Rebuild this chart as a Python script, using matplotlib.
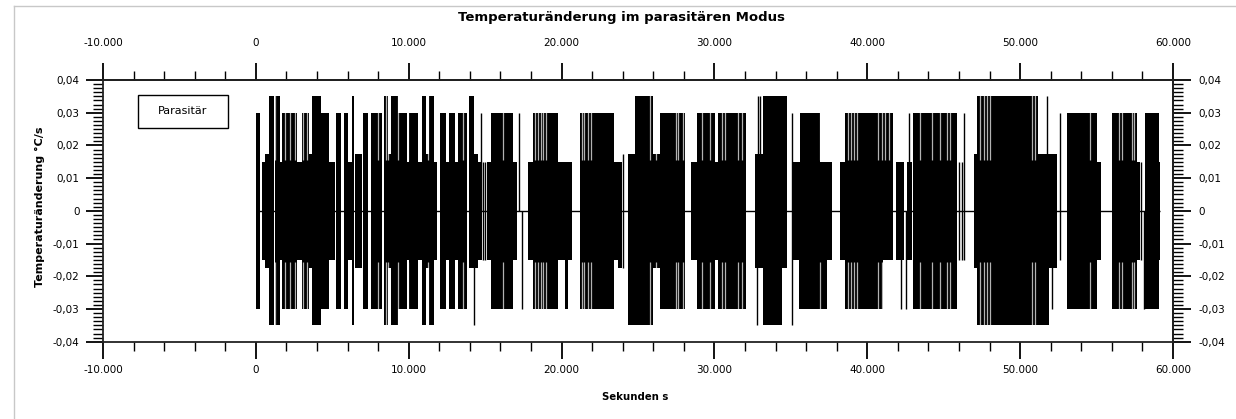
import matplotlib
matplotlib.use("Agg")
import matplotlib.pyplot as plt
from matplotlib.ticker import MultipleLocator, FixedLocator, FixedFormatter
from matplotlib.patches import Rectangle
from matplotlib.lines import Line2D

# ---------------- data ----------------
# dense oscillation bursts: start / end time [s], upper / lower envelope [°C/s]
burst_start = [0, 390, 590, 870, 1260, 1570, 1700, 2700, 2990, 3490, 3670, 4230, 4800,
               5240, 5780, 6040, 6260, 6480, 7030, 7530, 8010, 8400, 8660, 8840, 9320,
               9860, 10020, 10630, 10840, 11100, 11320, 11630, 12040, 12420, 12630,
               13030, 13240, 13960, 14290, 14550, 15100, 15360, 16840, 17830, 18150,
               19790, 20220, 20440, 21210, 23450, 23720, 24370, 24810, 26010, 26440,
               28450, 28840, 30040, 30260, 32660, 33210, 34450, 35060, 35500, 35610,
               36920, 37350, 38220, 38550, 41060, 41890, 42590, 43020, 46990, 47160,
               51200, 51860, 53060, 55020, 56000, 57640, 58180, 59060]
burst_end = [260, 570, 830, 1180, 1570, 1700, 2700, 2990, 3490, 3670, 4230, 4760, 5190,
             5540, 6040, 6260, 6420, 6960, 7310, 7960, 8230, 8660, 8840, 9270, 9860,
             10020, 10630, 10840, 11100, 11320, 11630, 11830, 12420, 12630, 13030,
             13240, 13830, 14290, 14550, 14770, 15360, 16840, 17100, 18150, 19790,
             20220, 20440, 20700, 23450, 23720, 23980, 24810, 26010, 26440, 28080,
             28840, 30040, 30260, 32070, 33210, 34450, 34730, 35500, 35610, 36920,
             37350, 37680, 38550, 41060, 41670, 42410, 42910, 45860, 47160, 51200,
             51860, 52400, 55020, 55280, 57640, 57860, 59060, 59170]
burst_high = [0.03, 0.015, 0.0175, 0.035, 0.035, 0.015, 0.03, 0.015, 0.03, 0.0175, 0.035,
              0.03, 0.015, 0.03, 0.03, 0.015, 0.035, 0.0175, 0.03, 0.03, 0.03, 0.035,
              0.0175, 0.035, 0.03, 0.015, 0.03, 0.015, 0.035, 0.0175, 0.035, 0.015, 0.03,
              0.015, 0.03, 0.015, 0.03, 0.035, 0.0175, 0.015, 0.015, 0.03, 0.015, 0.015,
              0.03, 0.015, 0.015, 0.015, 0.03, 0.015, 0.015, 0.0175, 0.035, 0.0175, 0.03,
              0.015, 0.03, 0.015, 0.03, 0.0175, 0.035, 0.035, 0.015, 0.015, 0.03, 0.015,
              0.015, 0.015, 0.03, 0.03, 0.015, 0.015, 0.03, 0.0175, 0.035, 0.0175,
              0.0175, 0.03, 0.015, 0.03, 0.015, 0.03, 0.015]
burst_low = [-0.03, -0.015, -0.0175, -0.035, -0.035, -0.015, -0.03, -0.015, -0.03, -0.0175,
             -0.035, -0.03, -0.015, -0.03, -0.03, -0.015, -0.035, -0.0175, -0.03, -0.03,
             -0.03, -0.035, -0.0175, -0.035, -0.03, -0.015, -0.03, -0.015, -0.035,
             -0.0175, -0.035, -0.015, -0.03, -0.015, -0.03, -0.015, -0.03, -0.0175,
             -0.0175, -0.015, -0.015, -0.03, -0.015, -0.015, -0.03, -0.015, -0.03,
             -0.015, -0.03, -0.015, -0.0175, -0.035, -0.035, -0.0175, -0.03, -0.015,
             -0.03, -0.015, -0.03, -0.0175, -0.035, -0.0175, -0.015, -0.03, -0.03, -0.03,
             -0.015, -0.015, -0.03, -0.015, -0.015, -0.015, -0.03, -0.0175, -0.035,
             -0.035, -0.0175, -0.03, -0.015, -0.03, -0.015, -0.03, -0.015]

# isolated single spikes: time [s], upper / lower value
spike_time = [14270, 14705, 14880, 15000, 17210, 17390, 24040, 32800, 32830, 32960, 35060,
              42190, 42540, 42700, 46030, 46180, 46340, 51750, 52080, 52620, 57900, 58080]
spike_high = [0, 0.03, 0.015, 0.015, 0.03, 0, 0.0175, 0, 0.035, 0.035, 0.03,
              0, 0, 0.03, 0.015, 0.015, 0.03, 0.035, 0, 0.03, 0.015, 0]
spike_low = [-0.035, 0, -0.015, -0.015, 0, -0.03, -0.0175, -0.035, 0, 0, -0.035,
             -0.03, -0.03, 0, -0.015, -0.015, -0.015, 0, -0.03, -0.015, -0.015, -0.03]

# short moments inside bursts where the outer envelope drops back to the ±0.015 level
dip_time = [1222, 1898, 2225, 2552, 3098, 3316, 7964, 8509, 8618, 9273, 9971, 11237,
            13570, 16145, 18262, 18480, 18654, 18807, 18982, 21315, 21490, 21751, 21926,
            25788, 26159, 27489, 27642, 27969, 29169, 29714, 30478, 30696, 31569, 31787,
            36915, 38726, 38944, 39162, 39315, 40733, 40950, 41168, 41452, 43459, 44223,
            44769, 45205, 45423, 47387, 47605, 47822, 48040, 50768, 50986, 54586, 56440,
            56658, 57313, 57422]
dip_level = 0.0155

x_ticks = [-10000, 0, 10000, 20000, 30000, 40000, 50000, 60000]
x_tick_labels = ["-10.000", "0", "10.000", "20.000", "30.000", "40.000", "50.000", "60.000"]
y_ticks = [-0.04, -0.03, -0.02, -0.01, 0, 0.01, 0.02, 0.03, 0.04]
y_tick_labels = ["-0,04", "-0,03", "-0,02", "-0,01", "0", "0,01", "0,02", "0,03", "0,04"]

title = "Temperaturänderung im parasitären Modus"
x_label = "Sekunden s"
y_label = "Temperaturänderung °C/s"
legend_label = "Parasitär"

# ---------------- figure ----------------
W, H = 1236, 419
fig = plt.figure(figsize=(W / 100, H / 100), dpi=100)
fig.patch.set_facecolor("white")
L, R, T, B = 103, 1173, 80, 341.7
ax = fig.add_axes([L / W, 1 - B / H, (R - L) / W, (B - T) / H])
ax.set_xlim(-10000, 60000)
ax.set_ylim(-0.04, 0.04)

widths = [e - s for s, e in zip(burst_start, burst_end)]
heights = [h - l for h, l in zip(burst_high, burst_low)]
ax.hlines(0, burst_start[0], burst_end[-1], color="black", linewidth=1.0, zorder=2)
ax.bar(burst_start, heights, width=widths, bottom=burst_low, align="edge",
       color="black", linewidth=0, zorder=3)
ax.vlines(dip_time, dip_level, 0.0355, color="white", linewidth=0.9, alpha=0.7, zorder=4)
ax.vlines(dip_time, -0.0355, -dip_level, color="white", linewidth=0.9, alpha=0.7, zorder=4)
ax.vlines(spike_time, spike_low, spike_high, color="black", linewidth=1.0, zorder=5)

for sp in ax.spines.values():
    sp.set_linewidth(1.3)
    sp.set_color("#222222")

fs = 7.5
# bottom x axis
ax.xaxis.set_major_locator(FixedLocator(x_ticks))
ax.xaxis.set_major_formatter(FixedFormatter(x_tick_labels))
ax.xaxis.set_minor_locator(MultipleLocator(2000))
ax.tick_params(axis="x", which="major", direction="out", length=12, width=1.3, pad=5,
               labelsize=fs, bottom=True, top=False)
ax.tick_params(axis="x", which="minor", direction="out", length=6.5, width=1.0,
               bottom=True, top=False)
# left y axis
ax.yaxis.set_major_locator(FixedLocator(y_ticks))
ax.yaxis.set_major_formatter(FixedFormatter(y_tick_labels))
ax.yaxis.set_minor_locator(MultipleLocator(0.00125))
ax.tick_params(axis="y", which="major", direction="out", length=12, width=1.3, pad=5,
               labelsize=fs, left=True, right=False)
ax.tick_params(axis="y", which="minor", direction="out", length=7, width=1.0,
               left=True, right=False)

# top x axis
secx = ax.secondary_xaxis("top")
secx.xaxis.set_major_locator(FixedLocator(x_ticks))
secx.xaxis.set_major_formatter(FixedFormatter(x_tick_labels))
secx.xaxis.set_minor_locator(MultipleLocator(2000))
secx.tick_params(axis="x", which="major", direction="out", length=12, width=1.3, pad=11,
                 labelsize=fs)
secx.tick_params(axis="x", which="minor", direction="out", length=6.5, width=1.0)
secx.spines["top"].set_linewidth(1.3)

# right y axis
secy = ax.secondary_yaxis("right")
secy.yaxis.set_major_locator(FixedLocator(y_ticks))
secy.yaxis.set_major_formatter(FixedFormatter(y_tick_labels))
secy.yaxis.set_minor_locator(MultipleLocator(0.00125))
secy.tick_params(axis="y", which="major", direction="out", length=13, width=1.3, pad=5,
                 labelsize=fs)
secy.tick_params(axis="y", which="minor", direction="out", length=7, width=1.0)
secy.spines["right"].set_linewidth(1.3)

# legend box
lx0, ly_top, lx1, ly_bot = 138, 95, 228, 128
ax.add_patch(Rectangle(((lx0 - L) / (R - L), 1 - (ly_bot - T) / (B - T)),
                       (lx1 - lx0) / (R - L), (ly_bot - ly_top) / (B - T),
                       transform=ax.transAxes, fill=False, edgecolor="black",
                       linewidth=1.0, zorder=6))
ax.text(((lx0 + lx1) / 2 - L) / (R - L), 1 - ((ly_top + ly_bot) / 2 - T) / (B - T),
        legend_label, transform=ax.transAxes, ha="center", va="center", fontsize=8,
        zorder=7)

# titles / labels
fig.text(622 / W, 1 - 17 / H, title, ha="center", va="center", fontsize=9.5,
         fontweight="bold")
fig.text(635 / W, 1 - 397 / H, x_label, ha="center", va="center", fontsize=7.3,
         fontweight="bold")
fig.text(40 / W, 1 - 207 / H, y_label, ha="center", va="center", fontsize=8,
         fontweight="bold", rotation=90)

# light window frame
fig.add_artist(Line2D([14 / W, 1], [1 - 6 / H, 1 - 6 / H], transform=fig.transFigure,
                      color="#c8c8c8", linewidth=1.0))
fig.add_artist(Line2D([14 / W, 14 / W], [0, 1 - 6 / H], transform=fig.transFigure,
                      color="#c8c8c8", linewidth=1.0))

fig.savefig("out.png", dpi=100, facecolor="white")
